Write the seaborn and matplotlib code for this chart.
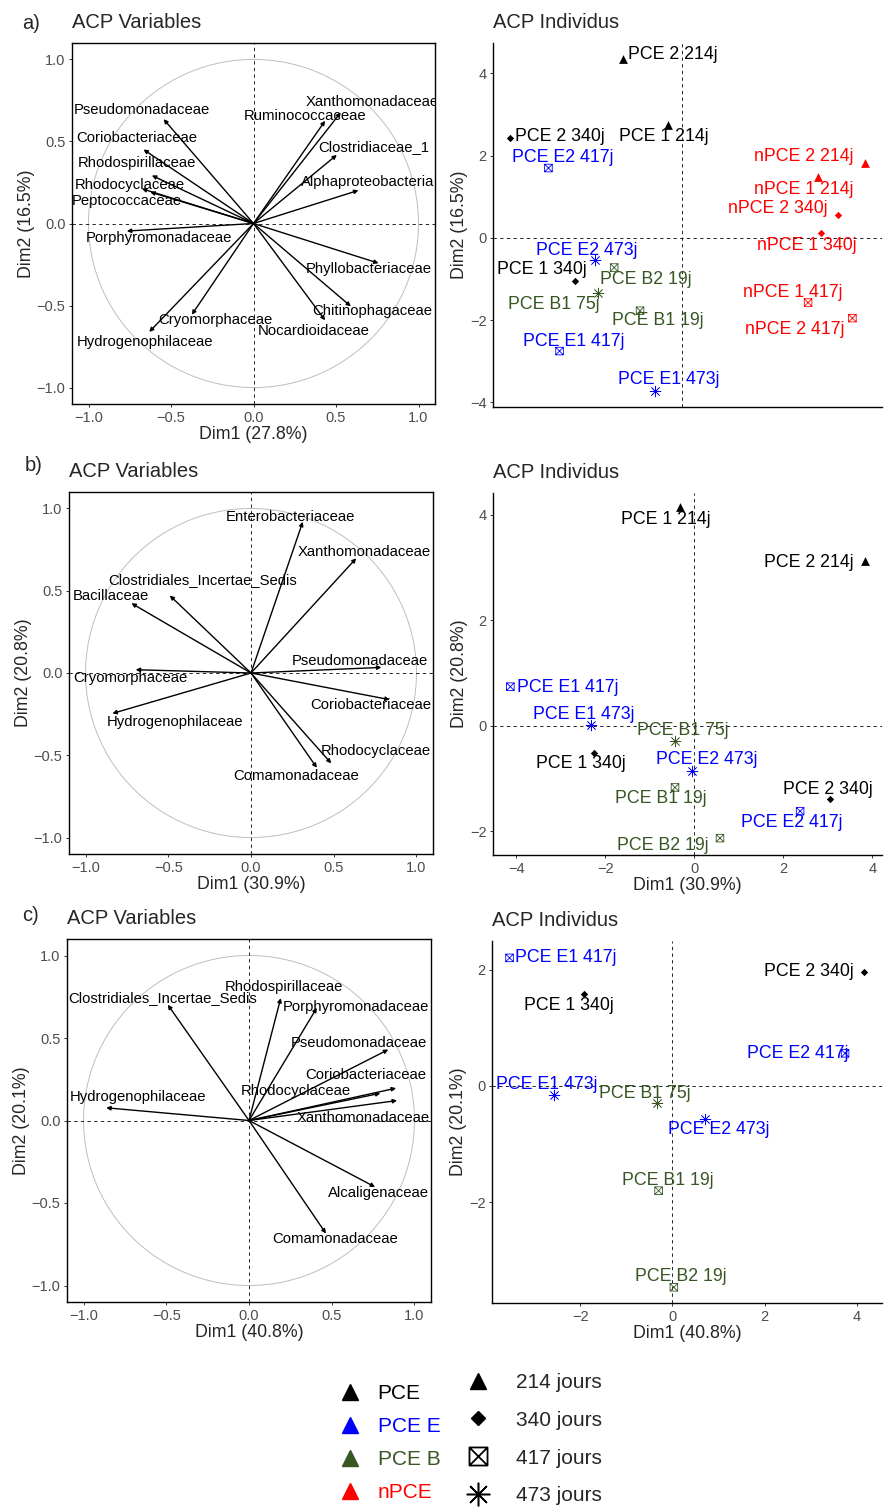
#!/usr/bin/env python3
# coding: utf-8
import numpy as np
import pandas as pd
import seaborn as sns
import matplotlib.pyplot as plt
from matplotlib.path import Path
from matplotlib.markers import MarkerStyle
from matplotlib.lines import Line2D
from matplotlib.patches import Circle
from matplotlib.transforms import offset_copy

# ------------------------------------------------
# Data : variables (correlation circles)
# ------------------------------------------------
var_a = ["Pseudomonadaceae", "Ruminococcaceae", "Xanthomonadaceae", "Coriobacteriaceae",
         "Clostridiaceae_1", "Rhodospirillaceae", "Alphaproteobacteria", "Rhodocyclaceae",
         "Peptococcaceae", "Porphyromonadaceae", "Phyllobacteriaceae", "Chitinophagaceae",
         "Nocardioidaceae", "Cryomorphaceae", "Hydrogenophilaceae"]
var_a_dim1 = [-0.545, 0.434, 0.529, -0.667, 0.505, -0.616, 0.636, -0.677,
              -0.626, -0.768, 0.758, 0.590, 0.434, -0.374, -0.632]
var_a_dim2 = [0.636, 0.626, 0.677, 0.451, 0.418, 0.293, 0.202, 0.212,
              0.192, -0.046, -0.242, -0.505, -0.590, -0.556, -0.661]

var_b = ["Enterobacteriaceae", "Xanthomonadaceae", "Clostridiales_Incertae_Sedis", "Bacillaceae",
         "Pseudomonadaceae", "Cryomorphaceae", "Coriobacteriaceae", "Hydrogenophilaceae",
         "Rhodocyclaceae", "Comamonadaceae"]
var_b_dim1 = [0.313, 0.636, -0.491, -0.723, 0.788, -0.697, 0.838, -0.838, 0.485, 0.398]
var_b_dim2 = [0.919, 0.697, 0.471, 0.424, 0.034, 0.020, -0.162, -0.246, -0.549, -0.576]

var_c = ["Clostridiales_Incertae_Sedis", "Rhodospirillaceae", "Porphyromonadaceae",
         "Pseudomonadaceae", "Coriobacteriaceae", "Rhodocyclaceae", "Xanthomonadaceae",
         "Hydrogenophilaceae", "Alcaligenaceae", "Comamonadaceae"]
var_c_dim1 = [-0.491, 0.192, 0.410, 0.842, 0.889, 0.794, 0.895, -0.863, 0.762, 0.465]
var_c_dim2 = [0.702, 0.742, 0.683, 0.430, 0.196, 0.165, 0.121, 0.077, -0.403, -0.685]

# ------------------------------------------------
# Data : individuals
# ------------------------------------------------
ind_a = ["PCE 2 214j", "PCE 1 214j", "PCE 2 340j", "PCE E2 417j", "nPCE 2 214j",
         "nPCE 1 214j", "nPCE 2 340j", "nPCE 1 340j", "PCE E2 473j", "PCE 1 340j",
         "PCE B2 19j", "PCE B1 75j", "PCE B1 19j", "nPCE 1 417j", "nPCE 2 417j",
         "PCE E1 417j", "PCE E1 473j"]
ind_a_group = ["PCE", "PCE", "PCE", "PCE E", "nPCE", "nPCE", "nPCE", "nPCE", "PCE E", "PCE",
               "PCE B", "PCE B", "PCE B", "nPCE", "nPCE", "PCE E", "PCE E"]
ind_a_day = ["214", "214", "340", "417", "214", "214", "340", "340", "473", "340",
             "417", "473", "417", "417", "417", "417", "473"]
ind_a_dim1 = [-1.43, -0.35, -4.18, -3.25, 4.45, 3.32, 3.79, 3.38, -2.12, -2.60,
              -1.65, -2.05, -1.02, 3.07, 4.15, -2.98, -0.66]
ind_a_dim2 = [4.35, 2.75, 2.43, 1.70, 1.82, 1.48, 0.56, 0.11, -0.54, -1.04,
              -0.72, -1.35, -1.77, -1.57, -1.95, -2.75, -3.72]

ind_b = ["PCE 1 214j", "PCE 2 214j", "PCE E1 417j", "PCE E1 473j", "PCE B1 75j",
         "PCE 1 340j", "PCE E2 473j", "PCE B1 19j", "PCE 2 340j", "PCE E2 417j", "PCE B2 19j"]
ind_b_group = ["PCE", "PCE", "PCE E", "PCE E", "PCE B", "PCE", "PCE E", "PCE B", "PCE",
               "PCE E", "PCE B"]
ind_b_day = ["214", "214", "417", "473", "473", "340", "473", "417", "340", "417", "417"]
ind_b_dim1 = [-0.31, 3.84, -4.13, -2.31, -0.43, -2.24, -0.04, -0.43, 3.06, 2.38, 0.58]
ind_b_dim2 = [4.14, 3.12, 0.74, 0.01, -0.29, -0.51, -0.85, -1.17, -1.39, -1.62, -2.13]

ind_c = ["PCE E1 417j", "PCE 1 340j", "PCE 2 340j", "PCE E2 417j", "PCE E1 473j",
         "PCE B1 75j", "PCE E2 473j", "PCE B1 19j", "PCE B2 19j"]
ind_c_group = ["PCE E", "PCE", "PCE", "PCE E", "PCE E", "PCE B", "PCE E", "PCE B", "PCE B"]
ind_c_day = ["417", "340", "340", "417", "473", "473", "473", "417", "417"]
ind_c_dim1 = [-3.53, -1.92, 4.16, 3.74, -2.57, -0.33, 0.70, -0.30, 0.03]
ind_c_dim2 = [2.20, 1.58, 1.96, 0.56, -0.16, -0.30, -0.56, -1.80, -3.46]

groups = ["PCE", "PCE E", "PCE B", "nPCE"]
days = ["214", "340", "417", "473"]

# ------------------------------------------------
# Label placement (pixel offsets from the point, repel-like)
# ------------------------------------------------
off_var_a = [(-22, -9), (-20, -5), (31, -10), (-7, -11), (37, -8), (-15, -12), (9, -8),
             (-12, -4), (-23, 9), (32, 7), (-10, 6), (21, 5), (-11, 11), (24, 5), (-4, 10)]
off_var_b = [(-12, -5), (8, -6), (33, -15), (-21, -7), (-22, -6), (-5, 8), (-19, 5),
             (63, 9), (45, -12), (-21, 8)]
off_var_c = [(-5, -7), (3, -11), (39, -1), (-29, -7), (-30, -13), (-85, -2), (-34, 17),
             (32, -11), (3, 6), (9, 5)]
off_ind_a = [(50, -5), (-4, 12), (50, -2), (14, -11), (-61, -7), (-15, 12), (-60, -6),
             (-14, 12), (-8, -10), (-33, -11), (32, 12), (-44, 11), (18, 10), (-15, -10),
             (-58, 11), (14, -10), (14, -11)]
off_ind_b = [(-15, 12), (-56, 1), (57, 1), (-8, -11), (8, -11), (-14, 11), (14, -11),
             (-14, 11), (-2, -10), (-8, 11), (-57, 7)]
off_ind_c = [(56, 0), (-15, 12), (-56, 0), (-47, 0), (-7, -11), (-12, -10), (14, 11),
             (9, -10), (7, -11)]

# ------------------------------------------------
# Style
# ------------------------------------------------
sns.set_theme(style="white", context="paper")
plt.rcParams['font.family'] = ['Liberation Sans', 'DejaVu Sans']

palette = {"PCE": "black", "PCE E": "#0000FF", "PCE B": "#375623", "nPCE": "#FF0000"}
box_x = Path([(-1, -1), (1, -1), (1, 1), (-1, 1), (-1, -1), (-1, -1), (1, 1), (-1, 1), (1, -1)],
             [Path.MOVETO, Path.LINETO, Path.LINETO, Path.LINETO, Path.CLOSEPOLY,
              Path.MOVETO, Path.LINETO, Path.MOVETO, Path.LINETO])
markers = {"214": "^", "340": "D", "417": MarkerStyle(box_x, fillstyle="none"), "473": (8, 2, 0)}
msize = {"214": 40, "340": 14, "417": 30, "473": 60}
mlw = {"214": 0, "340": 0, "417": 0.6, "473": 0.5}

W, H = 889, 1510
fig = plt.figure(figsize=(W / 100, H / 100), dpi=100)


def rect(x0, y0, x1, y1):
    return [x0 / W, 1 - y1 / H, (x1 - x0) / W, (y1 - y0) / H]


def style_axes(ax, full_box):
    for side in ["left", "bottom", "top", "right"]:
        ax.spines[side].set_color("black")
        ax.spines[side].set_linewidth(1.0)
    if not full_box:
        ax.spines["top"].set_visible(False)
        ax.spines["right"].set_visible(False)
    ax.tick_params(axis="both", length=2.2, width=0.7, color="#333333", pad=2.5,
                   labelsize=10.5, labelcolor="#4D4D4D", bottom=True, left=True)


def plot_variables(ax, names, d1, d2, offsets, xlab, ylab):
    ax.add_patch(Circle((0, 0), 1, fill=False, edgecolor="#BEBEBE", lw=0.7))
    ax.axhline(0, color="black", ls=(0, (4, 4)), lw=0.6)
    ax.axvline(0, color="black", ls=(0, (4, 4)), lw=0.6)
    for n, x, y, (dx, dy) in zip(names, d1, d2, offsets):
        ax.annotate("", xy=(x, y), xytext=(0, 0),
                    arrowprops=dict(arrowstyle="-|>", color="black", lw=1.0,
                                    shrinkA=0, shrinkB=0, mutation_scale=6))
        tr = offset_copy(ax.transData, fig=fig, x=dx, y=-dy, units="dots")
        ax.text(x, y, n, transform=tr, ha="center", va="center", fontsize=10.7,
                color="black", clip_on=True)
    ax.set_xlim(-1.1, 1.1)
    ax.set_ylim(-1.1, 1.1)
    ax.set_xticks([-1, -0.5, 0, 0.5, 1])
    ax.set_yticks([-1, -0.5, 0, 0.5, 1])
    ax.set_xlabel(xlab, fontsize=12.8, labelpad=1)
    ax.set_ylabel(ylab, fontsize=12.8, labelpad=1.5)
    ax.set_title("ACP Variables", loc="left", fontsize=14.5, pad=10.5)
    style_axes(ax, True)


def plot_individuals(ax, names, grp, day, d1, d2, offsets, xlim, ylim, xticks, yticks, xlab, ylab):
    df = pd.DataFrame({"name": names, "group": grp, "day": day, "Dim1": d1, "Dim2": d2})
    ax.axhline(0, color="black", ls=(0, (4, 4)), lw=0.6)
    ax.axvline(0, color="black", ls=(0, (4, 4)), lw=0.6)
    for (g, d), sub in df.groupby(["group", "day"]):
        sns.scatterplot(data=sub, x="Dim1", y="Dim2", marker=markers[d], s=msize[d],
                        color=palette[g], linewidth=mlw[d], ax=ax, zorder=3)
    for n, g, x, y, (dx, dy) in zip(df["name"], df["group"], df["Dim1"], df["Dim2"], offsets):
        tr = offset_copy(ax.transData, fig=fig, x=dx, y=-dy, units="dots")
        ax.text(x, y, n, transform=tr, ha="center", va="center", fontsize=12.8,
                color=palette[g])
    ax.set_xlim(*xlim)
    ax.set_ylim(*ylim)
    ax.set_xticks(xticks)
    ax.set_yticks(yticks)
    ax.set_xlabel(xlab, fontsize=12.8, labelpad=1)
    ax.set_ylabel(ylab, fontsize=12.8, labelpad=1.5)
    ax.set_title("ACP Individus", loc="left", fontsize=14.5, pad=10.5)
    style_axes(ax, False)


# ------------------------------------------------
# Panels
# ------------------------------------------------
ax = fig.add_axes(rect(72, 43, 435, 404))
plot_variables(ax, var_a, var_a_dim1, var_a_dim2, off_var_a, "Dim1 (27.8%)", "Dim2 (16.5%)")
ax = fig.add_axes(rect(493, 43, 882, 407))
plot_individuals(ax, ind_a, ind_a_group, ind_a_day, ind_a_dim1, ind_a_dim2, off_ind_a,
                 (-4.60, 4.87), (-4.11, 4.74), [], [-4, -2, 0, 2, 4], "", "Dim2 (16.5%)")
ax.tick_params(axis="x", bottom=False)

ax = fig.add_axes(rect(69, 492, 433, 854))
plot_variables(ax, var_b, var_b_dim1, var_b_dim2, off_var_b, "Dim1 (30.9%)", "Dim2 (20.8%)")
ax = fig.add_axes(rect(493, 493, 882, 855))
plot_individuals(ax, ind_b, ind_b_group, ind_b_day, ind_b_dim1, ind_b_dim2, off_ind_b,
                 (-4.52, 4.22), (-2.45, 4.41), [-4, -2, 0, 2, 4], [-2, 0, 2, 4],
                 "Dim1 (30.9%)", "Dim2 (20.8%)")

ax = fig.add_axes(rect(67, 939, 431, 1302))
plot_variables(ax, var_c, var_c_dim1, var_c_dim2, off_var_c, "Dim1 (40.8%)", "Dim2 (20.1%)")
ax = fig.add_axes(rect(492, 941, 882, 1303))
plot_individuals(ax, ind_c, ind_c_group, ind_c_day, ind_c_dim1, ind_c_dim2, off_ind_c,
                 (-3.91, 4.54), (-3.73, 2.49), [-2, 0, 2, 4], [-2, 0, 2],
                 "Dim1 (40.8%)", "Dim2 (20.1%)")

for tag, tx, ty in [("a)", 22, 29), ("b)", 25, 471), ("c)", 22, 921)]:
    fig.text(tx / W, 1 - ty / H, tag, fontsize=14.5, va="baseline", ha="left")

# ------------------------------------------------
# Legends
# ------------------------------------------------
h_grp = [Line2D([], [], marker="^", color=palette[g], ls="none", markersize=12) for g in groups]
leg1 = fig.legend(h_grp, groups, loc="upper left", bbox_to_anchor=(340 / W, 1 - 1384 / H),
                  frameon=False, fontsize=15, handlelength=1.0, handletextpad=0.8,
                  labelspacing=0.67, borderpad=0, borderaxespad=0)
for t, g in zip(leg1.get_texts(), groups):
    t.set_color(palette[g])

h_day = [Line2D([], [], marker="^", color="black", ls="none", markersize=12),
         Line2D([], [], marker="D", color="black", ls="none", markersize=7),
         Line2D([], [], marker=MarkerStyle(box_x, fillstyle="none"), color="black", ls="none",
                markersize=13, markeredgewidth=1.3),
         Line2D([], [], marker=(8, 2, 0), color="black", ls="none", markersize=17,
                markeredgewidth=1.1)]
fig.legend(h_day, [d + " jours" for d in days], loc="upper left",
           bbox_to_anchor=(468 / W, 1 - 1373 / H), frameon=False, fontsize=15,
           handlelength=1.0, handletextpad=1.28, labelspacing=0.9, borderpad=0,
           borderaxespad=0)

plt.savefig("out.png", dpi=100)
plt.close(fig)
